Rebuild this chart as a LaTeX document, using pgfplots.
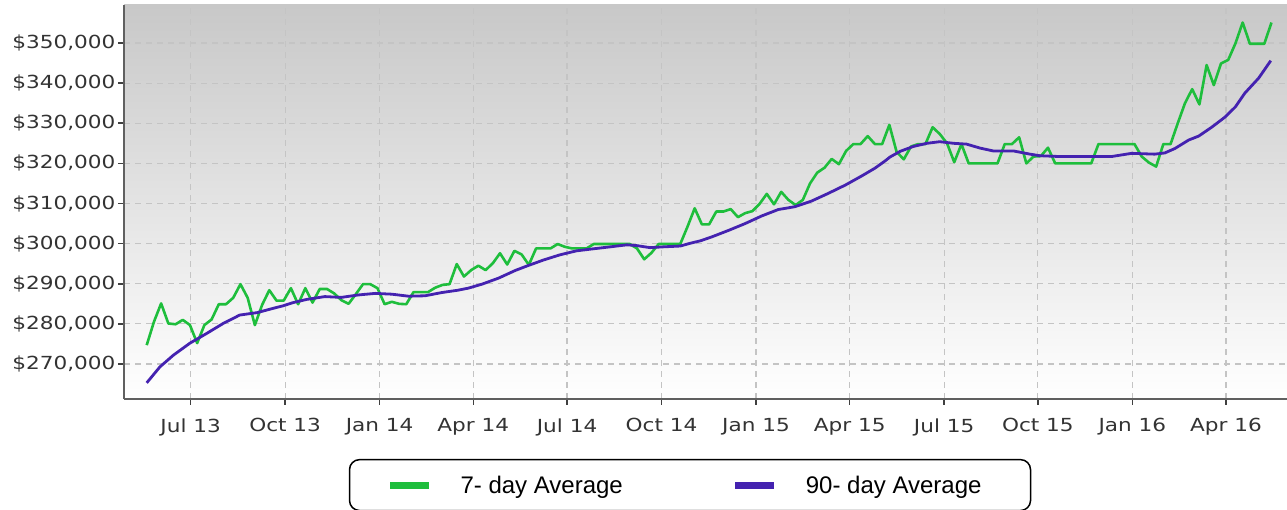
\documentclass[border=0pt]{standalone}
\usepackage{pgfplots}
\pgfplotsset{compat=1.18}
\usepackage{pgfplotstable}
\usepackage{fontspec}
\newfontfamily\tickfont[FakeStretch=1.2]{DejaVu Sans}
\newfontfamily\legfont{Liberation Sans}
\definecolor{sevenday}{RGB}{30,190,60}
\definecolor{ninetyday}{RGB}{68,34,176}
\definecolor{gridc}{RGB}{196,196,196}
\definecolor{ticktext}{RGB}{51,51,51}
\definecolor{bgtop}{RGB}{200,200,200}

\pgfplotstableread{
w v
0 274.7
1 280.5
2 285.1
3 280.1
4 279.9
5 281.0
6 279.7
7 275.2
8 279.7
9 281.1
10 284.9
11 284.9
12 286.5
13 289.9
14 286.5
15 279.7
16 284.7
17 288.4
18 285.8
19 285.8
20 288.9
21 284.9
22 288.9
23 285.3
24 288.7
25 288.7
26 287.6
27 285.9
28 285.0
29 287.4
30 289.9
31 289.9
32 288.9
33 284.9
34 285.5
35 285.0
36 284.9
37 287.9
38 287.9
39 287.9
40 289.0
41 289.7
42 289.9
43 294.9
44 291.8
45 293.4
46 294.5
47 293.4
48 295.1
49 297.6
50 294.8
51 298.2
52 297.3
53 294.7
54 298.8
55 298.8
56 298.8
57 299.9
58 299.2
59 298.8
60 298.8
61 298.8
62 299.9
63 299.9
64 299.9
65 299.9
66 299.9
67 299.9
68 298.8
69 296.1
70 297.7
71 299.9
72 299.9
73 299.9
74 299.9
75 304.2
76 308.8
77 304.8
78 304.8
79 308.0
80 308.0
81 308.6
82 306.6
83 307.6
84 308.1
85 309.9
86 312.4
87 309.8
88 312.9
89 310.9
90 309.6
91 310.9
92 315.0
93 317.7
94 318.9
95 321.1
96 319.8
97 323.1
98 324.8
99 324.8
100 326.8
101 324.8
102 324.8
103 329.6
104 322.9
105 321.0
106 324.2
107 324.8
108 324.8
109 329.0
110 327.3
111 325.0
112 320.3
113 324.8
114 320.0
115 320.0
116 320.0
117 320.0
118 320.0
119 324.8
120 324.8
121 326.5
122 320.0
123 321.7
124 321.8
125 323.9
126 320.0
127 320.0
128 320.0
129 320.0
130 320.0
131 320.0
132 324.8
133 324.8
134 324.8
135 324.8
136 324.8
137 324.8
138 321.7
139 320.2
140 319.2
141 324.8
142 324.8
143 330.0
144 335.0
145 338.5
146 334.7
147 344.5
148 339.5
149 344.9
150 345.8
151 349.9
152 355.1
153 349.8
154 349.8
155 349.8
156 355.1
}\sevenday

\pgfplotstableread{
w v
0 265.3
1.84 269.3
3.7 272.2
6 275.2
8.3 277.6
10.6 280.1
12.9 282.2
15.3 282.8
17.6 283.9
18.9 284.5
20.3 285.3
22.2 286.1
24.7 286.8
27 286.6
29.3 287.2
31.7 287.6
34 287.4
36.3 286.9
38.6 287.0
40.9 287.8
43.2 288.4
44.6 288.9
46.5 289.9
48.8 291.4
51.1 293.3
52.7 294.4
55 295.9
57.3 297.2
59.6 298.2
61.9 298.7
64.3 299.2
66.6 299.7
68 299.5
69.8 299.0
71.7 299.2
74 299.4
75.4 300.1
76.8 300.7
78.4 301.7
80.7 303.3
83 305.0
85.3 306.9
87.6 308.5
89.9 309.2
92.2 310.6
94.5 312.5
96.9 314.6
99.2 316.9
101 318.8
102.4 320.6
103.1 321.6
104.5 323.0
106.3 324.2
108.2 325.0
110 325.4
111.9 325.0
113.7 324.8
115.6 323.8
117.4 323.1
120.2 323.1
122.5 322.3
123.9 321.9
126.7 321.7
133.8 321.7
136.6 322.5
139.8 322.3
141.2 322.6
142.6 323.7
144.5 325.8
145.9 326.8
147.7 329.0
149.6 331.6
151 334.1
152.3 337.5
154.2 341.2
155.9 345.6
}\ninetyday

\begin{document}
\begin{tikzpicture}
\path[use as bounding box, fill=white] (0,0) rectangle (1287pt,510pt);
\begin{axis}[
  at={(124pt,111pt)}, anchor=south west,
  scale only axis, width=1163pt, height=394pt,
  xmin=-3.15, xmax=158.15, ymin=261.28, ymax=359.47,
  axis x line=bottom, axis y line=left,
  axis line style={-, line width=1.6pt, color=gray!75!black},
  axis background/.style={shade, top color=bgtop, bottom color=white},
  xtick={6.1,19.2,32.3,45.3,58.3,71.4,84.5,97.5,110.6,123.6,136.7,149.7},
  xticklabels={Jul 13,Oct 13,Jan 14,Apr 14,Jul 14,Oct 14,Jan 15,Apr 15,Jul 15,Oct 15,Jan 16,Apr 16},
  ytick={270,280,...,350},
  yticklabels={{\$270,000},{\$280,000},{\$290,000},{\$300,000},{\$310,000},{\$320,000},{\$330,000},{\$340,000},{\$350,000}},
  tick align=outside, major tick length=6pt,
  tick style={line width=1.5pt, color=black!75},
  tick label style={font=\tickfont\fontsize{18}{20}\selectfont, text=ticktext},
  xticklabel style={yshift=-10pt},
  yticklabel style={xshift=1pt},
  grid=major,
  major grid style={line width=1.2pt, color=gridc, dash pattern=on 6pt off 5pt},
  legend columns=2,
  legend style={at={(0.4867,-0.152)}, anchor=north, draw=black, line width=1.5pt,
    rounded corners=10pt, fill=white, inner xsep=37pt, inner ysep=16pt,
    font=\legfont\fontsize{24}{26}\selectfont,
    nodes={inner sep=0pt},
    /tikz/every odd column/.append style={column sep=28pt},
    /tikz/every even column/.append style={column sep=109pt}},
  legend image code/.code={\draw[#1, line width=7pt, rounded corners=0pt] (0pt,0pt) -- (39pt,0pt);},
]
\addplot[sevenday, line width=2.6pt, line join=round] table[x=w, y=v] {\sevenday};
\addlegendentry{7- day Average}
\addplot[ninetyday, line width=2.8pt, line join=round] table[x=w, y=v] {\ninetyday};
\addlegendentry{90- day Average\hspace*{12pt}}
\end{axis}
\end{tikzpicture}
\end{document}
